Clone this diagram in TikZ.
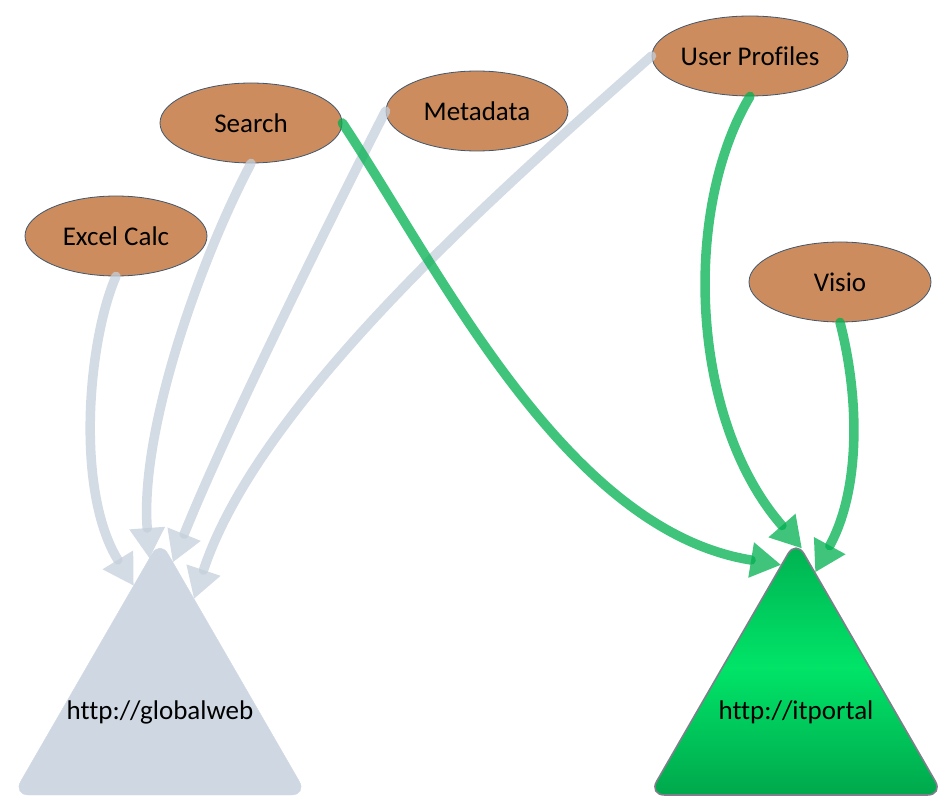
\documentclass[tikz,border=0pt]{standalone}
\usepackage{fontspec}
\setmainfont{Carlito}[Ligatures=NoCommon]
\usetikzlibrary{arrows.meta,shapes.geometric}

\definecolor{clay}{RGB}{204,140,94}
\definecolor{clayedge}{RGB}{65,88,110}
\definecolor{mist}{RGB}{207,216,226}
\definecolor{mistline}{RGB}{196,207,219}
\definecolor{leaf}{RGB}{0,176,80}
\definecolor{leafglow}{RGB}{0,228,104}
\definecolor{leafdark}{RGB}{0,168,76}

\tikzset{
  feature/.style={ellipse,draw=clayedge,thick,fill=clay,minimum width=182pt,minimum height=80pt,inner sep=0pt},
  site/.style={regular polygon,regular polygon sides=3,minimum size=340pt,inner sep=0pt,rounded corners=16pt},
  flow/.style={line width=9.5pt,line cap=round,opacity=0.75,-{Triangle[length=30pt,width=36pt,line width=0pt]}},
}

\begin{document}
\begin{tikzpicture}[x=1pt,y=-1pt,font=\fontsize{27}{32}\selectfont]
  \useasboundingbox (0,0) rectangle (948,802);
  % sites
  \node[site,draw=mist,fill=mist] (gw) at (160,710) {};
  \node[site,draw={rgb,255:red,125;green,128;blue,138},line width=1.6pt,
        top color=leaf,bottom color=leafdark,middle color=leafglow] (itp) at (796,710) {};
  \node (gwlbl) at (160,712) {http://globalweb};
  \node (itplbl) at (796,712) {http://itportal};
  % features
  \begin{scope}[every node/.style={feature}]
    \node (excel) at (116,236) {Excel Calc};
    \node (search) at (251,123) {Search};
    \node (meta) at (477,111) {Metadata};
    \node (users) at (750,56) {User Profiles};
    \node (visio) at (840,282) {Visio};
  \end{scope}
  % usage
  \begin{scope}[every path/.style={flow,draw=mistline}]
    \draw (excel.south) .. controls (88,340) and (75,490) .. (gw.102);
    \draw (search.south) .. controls (200,260) and (140,430) .. (gw.94);
    \draw (meta.west) .. controls (350,180) and (230,420) .. (gw.85);
    \draw (users.west) .. controls (500,190) and (260,400) .. (gw.73);
  \end{scope}
  \begin{scope}[every path/.style={flow,draw=leaf}]
    \draw (search.east) .. controls (440,270) and (565,530) .. (itp.96);
    \draw (users.south) .. controls (682,210) and (690,420) .. (itp.88);
    \draw (visio.south) .. controls (860,400) and (860,490) .. (itp.82);
  \end{scope}
\end{tikzpicture}
\end{document}
